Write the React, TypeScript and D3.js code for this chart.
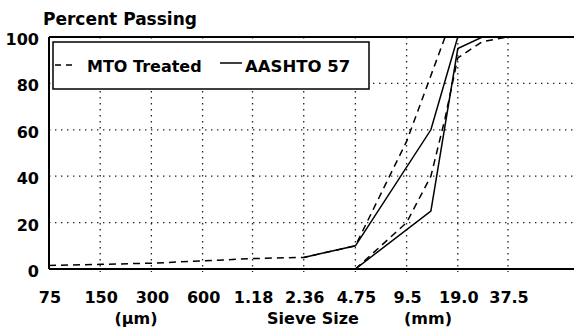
import React from 'react';
import * as d3 from 'd3';

// sieve sizes in mm, and the labels printed under the axis
const sieveSizes = [0.075, 0.15, 0.3, 0.6, 1.18, 2.36, 4.75, 9.5, 19.0, 37.5];
const sieveLabels = ['75', '150', '300', '600', '1.18', '2.36', '4.75', '9.5', '19.0', '37.5'];
const yTicks = [0, 20, 40, 60, 80, 100];

// MTO Treated envelope (dashed)
const mtoUpperSize = [0.075, 0.15, 0.3, 0.6, 1.18, 2.36, 4.75, 9.5, 16.0, 37.5];
const mtoUpperPass = [1.5, 2, 2.5, 3.5, 4.5, 5, 10, 55, 100, 100];
const mtoLowerSize = [4.75, 9.5, 13.2, 16.0, 19.0, 26.5, 37.5];
const mtoLowerPass = [0, 20, 40, 65, 91, 98, 100];

// AASHTO 57 envelope (solid)
const aashtoUpperSize = [2.36, 4.75, 13.2, 19.0, 37.5];
const aashtoUpperPass = [5, 10, 60, 100, 100];
const aashtoLowerSize = [0.075, 4.75, 13.2, 19.0, 26.5, 37.5];
const aashtoLowerPass = [0, 0, 25, 95, 100, 100];

const W = 574;
const H = 334;
const left = 49;
const top = 37;
const bottom = 269;
const right = 574;

const font = '"DejaVu Sans", sans-serif';

export default function App() {
  const x = d3.scaleLog().base(2).domain([0.075, 37.5]).range([left, 508]);
  const y = d3.scaleLinear().domain([0, 100]).range([bottom, top]);

  const line = d3
    .line<[number, number]>()
    .x(d => x(d[0]))
    .y(d => y(d[1]));

  const zip = (s: number[], p: number[]) => s.map((v, i) => [v, p[i]] as [number, number]);

  const dotted = { stroke: '#222', strokeWidth: 1.3, strokeDasharray: '1.4 4.6', fill: 'none' };

  return (
    <svg
      width={W}
      height={H}
      style={{ position: 'absolute', left: 0, top: 0, background: '#fff' }}
      fontFamily={font}
      fontWeight="bold"
    >
      <text x={43} y={25} fontSize={17}>Percent Passing</text>

      {/* grid */}
      {yTicks.filter(t => t > 0 && t < 100).map(t => (
        <line key={'h' + t} x1={left} x2={right} y1={y(t)} y2={y(t)} {...dotted} />
      ))}
      {sieveSizes.slice(1).map(s => (
        <line key={'v' + s} x1={x(s)} x2={x(s)} y1={top} y2={bottom + 3} {...dotted} />
      ))}

      {/* curves */}
      <g fill="none" stroke="#000" strokeWidth={1.5}>
        <path d={line(zip(mtoUpperSize, mtoUpperPass)) ?? ''} strokeDasharray="7 5" />
        <path d={line(zip(mtoLowerSize, mtoLowerPass)) ?? ''} strokeDasharray="7 5" />
        <path d={line(zip(aashtoUpperSize, aashtoUpperPass)) ?? ''} />
        <path d={line(zip(aashtoLowerSize, aashtoLowerPass)) ?? ''} />
      </g>

      {/* frame */}
      <g stroke="#000" strokeWidth={2} fill="none">
        <line x1={left} x2={left} y1={top} y2={bottom} />
        <line x1={left} x2={right} y1={top} y2={top} />
        <line x1={left} x2={right} y1={bottom} y2={bottom} />
      </g>

      {/* legend */}
      <rect x={53} y={42} width={316} height={47} fill="#fff" stroke="#000" strokeWidth={1.5} />
      <line x1={55} x2={73} y1={65} y2={65} stroke="#000" strokeWidth={1.5} strokeDasharray="6 5" />
      <text x={87} y={72} fontSize={16}>MTO Treated</text>
      <line x1={220} x2={242} y1={63} y2={63} stroke="#000" strokeWidth={1.5} />
      <text x={245} y={72} fontSize={16.5}>AASHTO 57</text>

      {/* y labels */}
      {yTicks.map(t => (
        <text key={'y' + t} x={39} y={y(t) + 8} fontSize={16} textAnchor="end">
          {t}
        </text>
      ))}

      {/* x labels */}
      {sieveSizes.map((s, i) => (
        <text key={'x' + s} x={x(s) + 1} y={303} fontSize={16} textAnchor="middle">
          {sieveLabels[i]}
        </text>
      ))}
      <text x={136} y={324} fontSize={16} textAnchor="middle">(μm)</text>
      <text x={313} y={324} fontSize={16} textAnchor="middle">Sieve Size</text>
      <text x={428} y={324} fontSize={16} textAnchor="middle">(mm)</text>
    </svg>
  );
}
